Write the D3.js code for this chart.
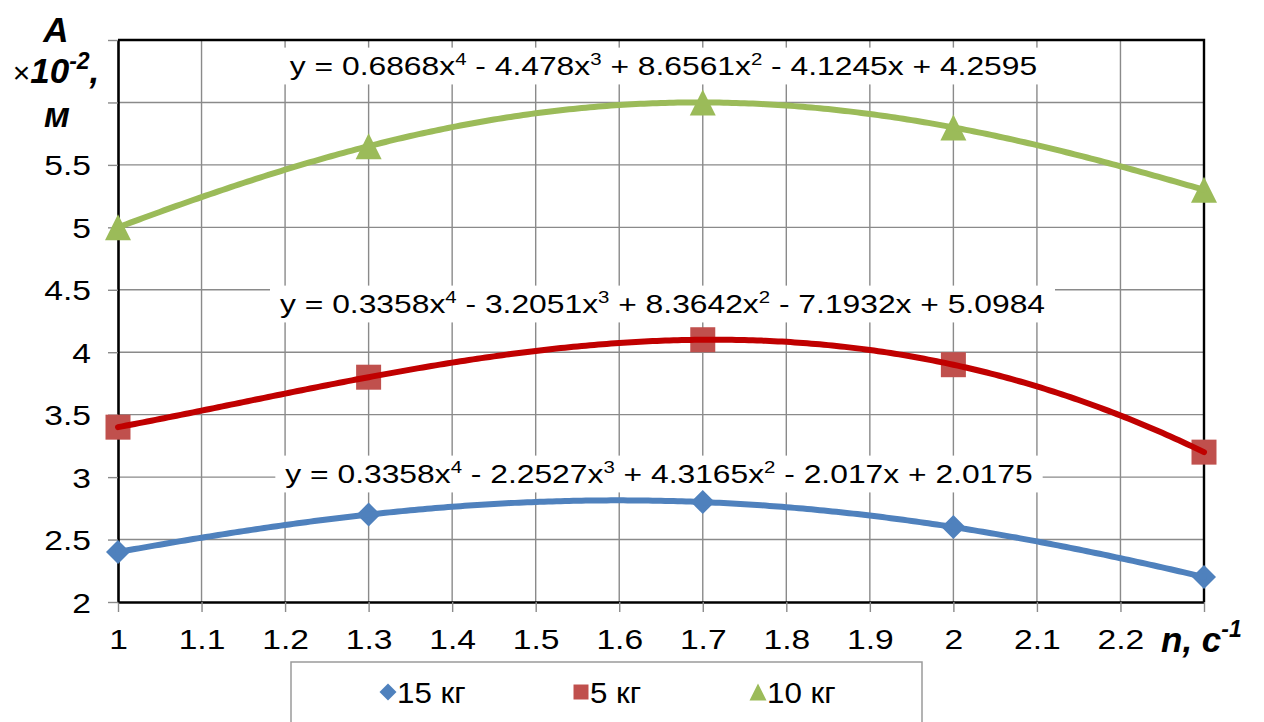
<!DOCTYPE html>
<html>
<head>
<meta charset="utf-8">
<script src="https://cdn.jsdelivr.net/npm/d3@7"></script>
<style>
  html, body { margin: 0; padding: 0; background: #fff; }
  svg { display: block; font-family: "Liberation Sans", Arial, sans-serif; }
</style>
</head>
<body>
<svg id="chart" width="1264" height="722"></svg>
<script>
// ---- data ----
const xValues = [1, 1.3, 1.7, 2, 2.3];
const series15 = [2.4, 2.7, 2.8, 2.6, 2.2];
const series5 = [3.4, 3.8, 4.1, 3.9, 3.2];
const series10 = [5.0, 5.65, 6.0, 5.8, 5.3];
const seriesNames = ["15 кг", "5 кг", "10 кг"];
const xTicks = [1, 1.1, 1.2, 1.3, 1.4, 1.5, 1.6, 1.7, 1.8, 1.9, 2, 2.1, 2.2, 2.3];
const yTicks = [2, 2.5, 3, 3.5, 4, 4.5, 5, 5.5, 6, 6.5];
const yTickLabels = ["2", "2.5", "3", "3.5", "4", "4.5", "5", "5.5", "", ""];
const xTickLabels = ["1", "1.1", "1.2", "1.3", "1.4", "1.5", "1.6", "1.7", "1.8", "1.9", "2", "2.1", "2.2", ""];
// trendline equation labels (text parts: [coef, power])
const eq15 = [["0.3358", "4"], ["- 2.2527", "3"], ["+ 4.3165", "2"], ["- 2.017", ""], ["+ 2.0175", null]];
const eq5  = [["0.3358", "4"], ["- 3.2051", "3"], ["+ 8.3642", "2"], ["- 7.1932", ""], ["+ 5.0984", null]];
const eq10 = [["0.6868", "4"], ["- 4.478", "3"], ["+ 8.6561", "2"], ["- 4.1245", ""], ["+ 4.2595", null]];

// ---- layout ----
const svg = d3.select("#chart");
const x = d3.scaleLinear().domain([1, 2.3]).range([118, 1204]);
const y = d3.scaleLinear().domain([2, 6.5]).range([602, 40]);
const SX = 1.2; // horizontal text stretch of the original
const colors = { blue: "#4F81BD", redLine: "#C00000", redMark: "#C0504D", green: "#9BBB59" };
const gridColor = "#8a8a8a";

// custom marker shapes (size = full width in px)
const diamondType = { draw(c, s) { const r = s / 2; c.moveTo(0, -r); c.lineTo(r, 0); c.lineTo(0, r); c.lineTo(-r, 0); c.closePath(); } };
const squareType = { draw(c, s) { const r = s / 2; c.rect(-r, -r, s, s); } };
const triangleType = { draw(c, s) { const r = s / 2; c.moveTo(0, -r); c.lineTo(r, r); c.lineTo(-r, r); c.closePath(); } };

// gridlines
const grid = svg.append("g");
grid.selectAll("line.v").data(xTicks.filter(d => d > 1 && d < 2.3)).enter().append("line")
  .attr("x1", d => x(d)).attr("x2", d => x(d)).attr("y1", y(6.5)).attr("y2", y(2))
  .attr("stroke", gridColor).attr("stroke-width", 1.4);
grid.selectAll("line.h").data(yTicks.filter(d => d > 2 && d < 6.5)).enter().append("line")
  .attr("x1", x(1)).attr("x2", x(2.3)).attr("y1", d => y(d)).attr("y2", d => y(d))
  .attr("stroke", gridColor).attr("stroke-width", 1.4);

// border top/right
svg.append("path")
  .attr("d", `M${x(1)},${y(6.5)}H${x(2.3)}V${y(2)}`)
  .attr("fill", "none").attr("stroke", "#000").attr("stroke-width", 2.4);

// axes
const xAxis = d3.axisBottom(x).tickValues(xTicks).tickSize(10).tickSizeOuter(0)
  .tickFormat((d, i) => xTickLabels[i]);
const gx = svg.append("g").attr("transform", `translate(0,${y(2)})`).call(xAxis);
gx.select(".domain").attr("stroke", "#000").attr("stroke-width", 2.6);
gx.selectAll(".tick line").attr("stroke", gridColor).attr("stroke-width", 1.4);
gx.selectAll(".tick text").attr("font-size", 28).attr("font-family", "Liberation Sans, Arial, sans-serif")
  .attr("fill", "#000").attr("y", 27).attr("dy", "0.71em").attr("transform", `scale(${SX},1)`);

const yAxis = d3.axisLeft(y).tickValues(yTicks).tickSize(10).tickSizeOuter(0)
  .tickFormat((d, i) => yTickLabels[i]);
const gy = svg.append("g").attr("transform", `translate(${x(1)},0)`).call(yAxis);
gy.select(".domain").attr("stroke", "#000").attr("stroke-width", 2.6);
gy.selectAll(".tick line").attr("stroke", gridColor).attr("stroke-width", 1.4);
gy.selectAll(".tick text").attr("font-size", 28).attr("font-family", "Liberation Sans, Arial, sans-serif")
  .attr("fill", "#000").attr("x", -27 / SX).attr("dy", "0.36em").attr("transform", `scale(${SX},1)`);

// trendline: degree-4 polynomial through the 5 data points (Excel poly trendline)
function polyFit(xs, ys) {
  return function (t) {
    let s = 0;
    for (let i = 0; i < xs.length; i++) {
      let l = 1;
      for (let j = 0; j < xs.length; j++) if (j !== i) l *= (t - xs[j]) / (xs[i] - xs[j]);
      s += ys[i] * l;
    }
    return s;
  };
}
const samples = d3.range(0, 261).map(i => 1 + i * 0.005);
const line = d3.line().x(d => x(d[0])).y(d => y(d[1]));

// equation labels
function eqLabel(parts, cx, baseline) {
  const g = svg.append("g");
  const t = g.append("text").attr("font-size", 26.5).attr("fill", "#000")
    .attr("text-anchor", "middle").attr("transform", `translate(${cx},${baseline}) scale(${SX},1)`);
  t.append("tspan").text("y = ");
  parts.forEach((p, i) => {
    const coef = (i > 0 ? " " : "") + p[0];
    t.append("tspan").attr("dy", i > 0 && parts[i - 1][1] ? 10 : 0).text(coef + (p[1] !== null ? "x" : ""));
    if (p[1]) t.append("tspan").attr("font-size", 17).attr("dy", -10).text(p[1]);
  });
  const bb = t.node().getBBox();
  g.insert("rect", "text")
    .attr("x", cx + bb.x * SX - 10).attr("y", baseline + bb.y - 2)
    .attr("width", bb.width * SX + 20).attr("height", bb.height + 6)
    .attr("fill", "#fff");
}
eqLabel(eq10, 663.5, 75);
eqLabel(eq5, 662.5, 313);
eqLabel(eq15, 659, 483);

// series
function drawSeries(vals, markColor, lineColor, type, size) {
  const pts = xValues.map((v, i) => [v, vals[i]]);
  const symbol = d3.symbol().type(type).size(size);
  svg.append("g").selectAll("path").data(pts).enter().append("path")
    .attr("d", symbol).attr("fill", markColor)
    .attr("transform", d => `translate(${x(d[0])},${y(d[1])})`);
  const f = polyFit(xValues, vals);
  svg.append("path").datum(samples.map(t => [t, f(t)]))
    .attr("d", line).attr("fill", "none").attr("stroke", lineColor).attr("stroke-width", 6)
    .attr("stroke-linecap", "round");
}
drawSeries(series15, colors.blue, colors.blue, diamondType, 24);
drawSeries(series5, colors.redMark, colors.redLine, squareType, 25);
drawSeries(series10, colors.green, colors.green, triangleType, 26);

// axis titles
const yt = svg.append("text").attr("text-anchor", "middle").attr("fill", "#000");
yt.append("tspan").attr("x", 56).attr("y", 42).attr("font-size", 35).attr("font-weight", "bold").attr("font-style", "italic").text("A");
const yt2 = svg.append("text").attr("text-anchor", "middle").attr("fill", "#000").attr("x", 56).attr("y", 83);
yt2.append("tspan").attr("font-size", 30).text("×");
yt2.append("tspan").attr("font-size", 35).attr("font-weight", "bold").attr("font-style", "italic").text("10");
yt2.append("tspan").attr("font-size", 23).attr("font-weight", "bold").attr("font-style", "italic").attr("dy", -14).text("-2");
yt2.append("tspan").attr("font-size", 35).attr("font-weight", "bold").attr("font-style", "italic").attr("dy", 14).text(",");
svg.append("text").attr("text-anchor", "middle").attr("x", 57).attr("y", 127)
  .attr("font-size", 35).attr("font-weight", "bold").attr("font-style", "italic").text("м");
const xt = svg.append("text").attr("x", 1161).attr("y", 652).attr("fill", "#000")
  .attr("font-weight", "bold").attr("font-style", "italic");
xt.append("tspan").attr("font-size", 35).text("n, c");
xt.append("tspan").attr("font-size", 23).attr("dy", -15).text("-1");

// legend
const lg = svg.append("g");
lg.append("rect").attr("x", 291).attr("y", 662).attr("width", 631).attr("height", 80)
  .attr("fill", "#fff").attr("stroke", "#9a9a9a").attr("stroke-width", 1.5);
const legendItems = [
  { name: seriesNames[0], color: colors.blue, type: diamondType, size: 17, cx: 388 },
  { name: seriesNames[1], color: colors.redMark, type: squareType, size: 15, cx: 581 },
  { name: seriesNames[2], color: colors.green, type: triangleType, size: 17, cx: 758 }
];
legendItems.forEach(it => {
  lg.append("path").attr("d", d3.symbol().type(it.type).size(it.size)).attr("fill", it.color)
    .attr("transform", `translate(${it.cx},692)`);
  lg.append("text").attr("font-size", 29).attr("fill", "#000")
    .attr("transform", `translate(${it.cx + 9},703) scale(1.08,1)`).text(it.name);
});
</script>
</body>
</html>
